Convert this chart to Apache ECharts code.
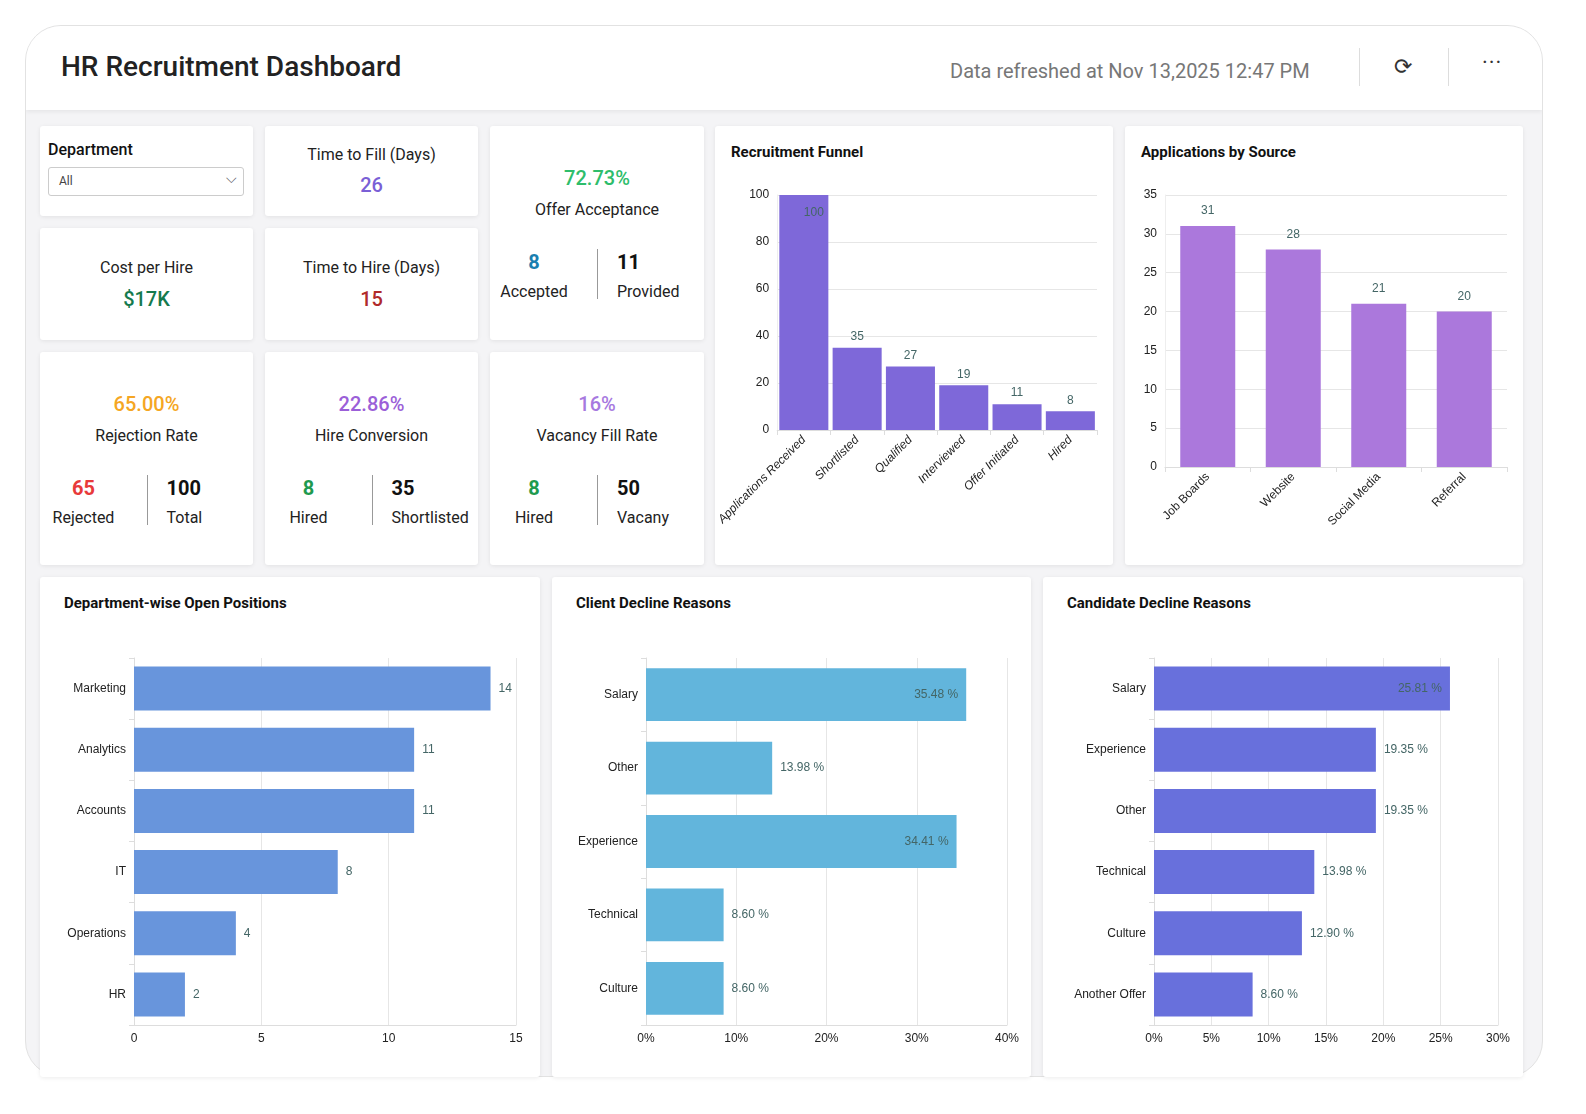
<!DOCTYPE html>
<html><head><meta charset="utf-8">
<script src="https://cdn.jsdelivr.net/npm/echarts@6/dist/echarts.min.js"></script>
<style>
body{margin:0;width:1586px;height:1114px;background:#fff;font-family:Roboto,sans-serif;position:relative;overflow:hidden}
#outer{position:absolute;left:25px;top:25px;width:1516px;height:1050px;border:1px solid #e2e2e2;border-radius:36px;background:#f4f4f6;overflow:hidden}
#hdr{position:absolute;left:0;top:0;width:100%;height:84px;background:#fff;box-shadow:0 2px 4px rgba(0,0,0,.06)}
.card{position:absolute;background:#fff;border-radius:3px;box-shadow:0 1px 4px rgba(0,0,0,.08);box-sizing:border-box}
.c{text-align:center;position:absolute;left:0;width:100%}
.lbl{font-size:16px;color:#222}
.big{font-size:20px;font-weight:500}
.split{position:absolute;top:0;width:1px;background:#999}
.ch{position:absolute}
.title{position:absolute;font-size:15px;font-weight:700;color:#111}
</style></head><body>
<div id="outer">
 <div id="hdr">
  <div style="position:absolute;left:35px;top:24px;font-size:28px;font-weight:500;color:#222">HR Recruitment Dashboard</div>
  <div style="position:absolute;left:924px;top:33px;font-size:20px;color:#777">Data refreshed at Nov 13,2025 12:47 PM</div>
  <div style="position:absolute;left:1333px;top:22px;width:1px;height:38px;background:#ddd"></div>
  <div style="position:absolute;left:1368px;top:28px;font-size:22px;color:#333">&#x27F3;</div>
  <div style="position:absolute;left:1422px;top:22px;width:1px;height:38px;background:#ddd"></div>
  <div style="position:absolute;left:1456px;top:24px;font-size:22px;color:#333;letter-spacing:1px">&middot;&middot;&middot;</div>
 </div>
</div>
<div id="cards"></div>
<script>
// ---- data ----
const funnelCats=['Applications Received','Shortlisted','Qualified','Interviewed','Offer Initiated','Hired'];
const funnelVals=[100,35,27,19,11,8];
const sourceCats=['Job Boards','Website','Social Media','Referral'];
const sourceVals=[31,28,21,20];
const deptCats=['Marketing','Analytics','Accounts','IT','Operations','HR'];
const deptVals=[14,11,11,8,4,2];
const clientCats=['Salary','Other','Experience','Technical','Culture'];
const clientVals=[35.48,13.98,34.41,8.60,8.60];
const candCats=['Salary','Experience','Other','Technical','Culture','Another Offer'];
const candVals=[25.81,19.35,19.35,13.98,12.90,8.60];

const body=document.body;
function card(x,y,w,h,html){const d=document.createElement('div');d.className='card';Object.assign(d.style,{left:x+'px',top:y+'px',width:w+'px',height:h+'px'});d.innerHTML=html||'';body.appendChild(d);return d;}
function pair(y,v1,c1,l1,v2,l2){return `<div style="position:absolute;top:${y}px;left:0;width:100%">
<div style="position:absolute;right:calc(50% + 18px);text-align:center;width:90px"><div style="font-size:20px;font-weight:700;color:${c1}">${v1}</div><div class="lbl" style="margin-top:8px">${l1}</div></div>
<div class="split" style="left:50%;height:50px;top:-1px"></div>
<div style="position:absolute;left:calc(50% + 20px);text-align:left"><div style="font-size:20px;font-weight:700;color:#111">${v2}</div><div class="lbl" style="margin-top:8px">${l2}</div></div></div>`;}

card(40,126,213,90,`<div style="position:absolute;left:8px;top:14px;font-size:16px;font-weight:500;color:#111">Department</div>
<div style="position:absolute;left:8px;top:41px;width:196px;height:29px;border:1px solid #ccc;border-radius:3px;box-sizing:border-box;font-size:12px;color:#444;padding:6px 10px">All<span style="position:absolute;right:6px;top:2px;font-size:14px;color:#555">&#x2335;</span></div>`);
card(265,126,213,90,`<div class="c lbl" style="top:19px">Time to Fill (Days)</div><div class="c big" style="top:47px;color:#7a5fd6">26</div>`);
card(490,126,214,214,`<div class="c big" style="top:40px;color:#2ebd6b">72.73%</div><div class="c lbl" style="top:74px">Offer Acceptance</div>`+pair(124,'8','#1a7fb0','Accepted','11','Provided'));
card(40,228,213,112,`<div class="c lbl" style="top:30px">Cost per Hire</div><div class="c big" style="top:59px;color:#157a4e">$17K</div>`);
card(265,228,213,112,`<div class="c lbl" style="top:30px">Time to Hire (Days)</div><div class="c big" style="top:59px;color:#b02a2a">15</div>`);
card(40,352,213,213,`<div class="c big" style="top:40px;color:#f5a623">65.00%</div><div class="c lbl" style="top:74px">Rejection Rate</div>`+pair(124,'65','#e83a3a','Rejected','100','Total'));
card(265,352,213,213,`<div class="c big" style="top:40px;color:#9b5fd8">22.86%</div><div class="c lbl" style="top:74px">Hire Conversion</div>`+pair(124,'8','#1f9a4f','Hired','35','Shortlisted'));
card(490,352,214,213,`<div class="c big" style="top:40px;color:#a779e0">16%</div><div class="c lbl" style="top:74px">Vacancy Fill Rate</div>`+pair(124,'8','#1f9a4f','Hired','50','Vacany'));

function chartCard(x,y,w,h,title,tx){const d=card(x,y,w,h,`<div class="title" style="left:${tx}px;top:17px">${title}</div>`);const c=document.createElement('div');c.className='ch';Object.assign(c.style,{left:'0',top:'0',width:w+'px',height:h+'px'});d.appendChild(c);return echarts.init(c);}
const axLbl={color:'#222',fontSize:12};
const split={lineStyle:{color:'#e6e6e6'}};

const f=chartCard(715,126,398,439,'Recruitment Funnel',16);
f.setOption({animation:false,grid:{left:50,right:16,top:69,bottom:135},
xAxis:{type:'category',data:funnelCats,axisLabel:{...axLbl,rotate:45,interval:0,fontStyle:'italic'},axisLine:{lineStyle:{color:'#ddd'}},axisTick:{show:true,lineStyle:{color:'#ddd'}}},
yAxis:{type:'value',min:0,max:100,interval:20,axisLabel:axLbl,splitLine:split,axisLine:{show:true,lineStyle:{color:'#eee'}}},
series:[{type:'bar',data:funnelVals,barCategoryGap:'8%',itemStyle:{color:'#7e68d9'},
label:{show:true,color:'#466',fontSize:12,position:'top',formatter:p=>p.value},
labelLayout:p=>p.dataIndex===0?{y:p.rect.y+12}:{}}]});

const s=chartCard(1125,126,398,439,'Applications by Source',16);
s.setOption({animation:false,grid:{left:40,right:16,top:69,bottom:98},
xAxis:{type:'category',data:sourceCats,axisLabel:{...axLbl,rotate:45,interval:0},axisLine:{lineStyle:{color:'#ddd'}},axisTick:{show:true,lineStyle:{color:'#ddd'}}},
yAxis:{type:'value',min:0,max:35,interval:5,axisLabel:axLbl,splitLine:split,axisLine:{show:true,lineStyle:{color:'#eee'}}},
series:[{type:'bar',data:sourceVals,barWidth:55,itemStyle:{color:'#ab78dc'},label:{show:true,position:'top',distance:9,color:'#466',fontSize:12}}]});

function hbar(ch,left,right,cats,vals,max,interval,color,pct,insideAt){
 ch.setOption({animation:false,grid:{left:left,right:right,top:81,bottom:52},
 xAxis:{type:'value',min:0,max:max,interval:interval,axisLabel:{...axLbl,formatter:v=>pct?v+'%':v},splitLine:split,axisLine:{show:true,lineStyle:{color:'#ddd'}}},
 yAxis:{type:'category',inverse:true,data:cats,axisLabel:axLbl,axisLine:{lineStyle:{color:'#ddd'}},axisTick:{show:true,lineStyle:{color:'#ddd'}}},
 series:[{type:'bar',barCategoryGap:'28%',itemStyle:{color:color},
  data:vals.map(v=>({value:v,label:{position:v>=insideAt?'insideRight':'right'}})),
  label:{show:true,color:'#466',fontSize:12,distance:8,formatter:p=>pct?p.value.toFixed(2)+' %':p.value}}]});
}
const d=chartCard(40,577,500,500,'Department-wise Open Positions',24);
hbar(d,94,24,deptCats,deptVals,15,5,'#6895dc',false,999);
const c=chartCard(552,577,479,500,'Client Decline Reasons',24);
hbar(c,94,24,clientCats,clientVals,40,10,'#62b5dc',true,30);
const k=chartCard(1043,577,480,500,'Candidate Decline Reasons',24);
hbar(k,111,25,candCats,candVals,30,5,'#6870dc',true,25);
</script></body></html>
